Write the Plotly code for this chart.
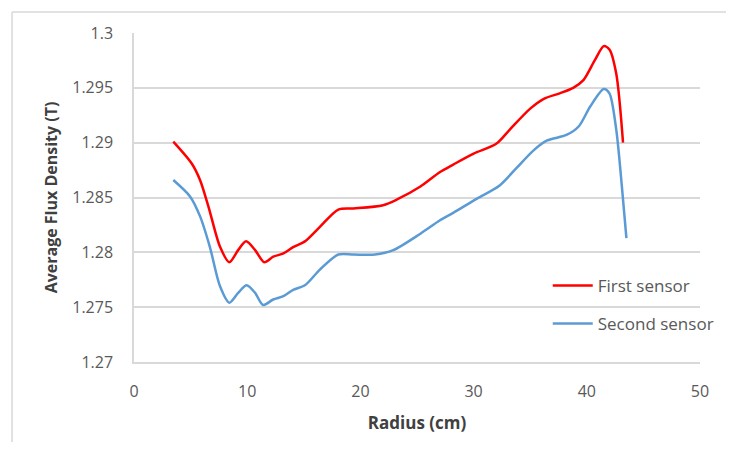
import plotly.graph_objects as go

# Data
radius_first = [3.47, 5.1, 5.83, 6.57, 7.6, 8.42, 9.2, 9.9, 10.7, 11.5, 12.3, 13.2, 14.1, 15.1,
                16.4, 18.05, 19.4, 22.0, 23.2, 25.3, 27.0, 28.2, 30.0, 32.0, 33.2, 35.0, 36.2,
                37.6, 38.8, 39.7, 40.7, 41.5, 42.0, 42.6, 43.2]
flux_first = [1.2901, 1.2881, 1.2866, 1.2842, 1.2805, 1.2791, 1.2802, 1.2810, 1.2802, 1.2791,
              1.2796, 1.2799, 1.2805, 1.2810, 1.2823, 1.2839, 1.2840, 1.2843, 1.2848, 1.2860,
              1.2873, 1.2880, 1.2890, 1.2899, 1.2912, 1.2931, 1.2940, 1.2945, 1.2950, 1.2957,
              1.2975, 1.2988, 1.2985, 1.2963, 1.2900]

radius_second = [3.47, 4.95, 5.83, 6.7, 7.6, 8.42, 9.2, 9.95, 10.7, 11.4, 12.3, 13.2, 14.1, 15.1,
                 16.4, 18.05, 19.4, 21.3, 22.9, 25.3, 27.0, 28.2, 30.3, 32.3, 33.8, 35.3, 36.5,
                 38.2, 39.3, 40.3, 41.5, 42.0, 42.6, 43.1, 43.5]
flux_second = [1.2866, 1.2851, 1.2833, 1.2805, 1.2769, 1.2754, 1.2763, 1.2770, 1.2763, 1.2752,
               1.2757, 1.2760, 1.2766, 1.2770, 1.2784, 1.2798, 1.2798, 1.2798, 1.2802, 1.2817,
               1.2829, 1.2836, 1.2849, 1.2861, 1.2877, 1.2893, 1.2902, 1.2907, 1.2915, 1.2933,
               1.2949, 1.2945, 1.2912, 1.2860, 1.2813]

y_tick_vals = [1.27, 1.275, 1.28, 1.285, 1.29, 1.295, 1.3]
y_tick_text = ["1.27", "1.275", "1.28", "1.285", "1.29", "1.295", "1.3"]
x_tick_vals = [0, 10, 20, 30, 40, 50]

FONT = "Open Sans"

fig = go.Figure()
fig.add_trace(go.Scatter(x=radius_first, y=flux_first, mode="lines", name="First sensor",
                         line=dict(color="#FF0000", width=2.5, shape="spline", smoothing=0.8),
                         legendgroup="a"))
fig.add_trace(go.Scatter(x=radius_second, y=flux_second, mode="lines", name="Second sensor",
                         line=dict(color="#5B9BD5", width=2.5, shape="spline", smoothing=0.8),
                         legendgroup="b"))

fig.update_layout(
    width=718, height=434,
    margin=dict(l=126, r=26, t=25, b=80, autoexpand=False),
    paper_bgcolor="white", plot_bgcolor="white",
    font=dict(family=FONT, color="#595959", size=15),
    legend=dict(x=0.731, y=0.286, xanchor="left", yanchor="top",
                font=dict(family=FONT, size=17, color="#595959"),
                tracegroupgap=13, itemwidth=40, bgcolor="rgba(0,0,0,0)"),
    xaxis=dict(range=[0, 50], tickvals=x_tick_vals, showgrid=False, zeroline=False,
               showline=True, linecolor="#D9D9D9", linewidth=1.5, ticks="",
               tickfont=dict(size=16, color="#595959"), ticklabelstandoff=14,
               title=dict(text="<b>Radius (cm)</b>", font=dict(size=17, color="#404040"),
                          standoff=16)),
    yaxis=dict(range=[1.27, 1.3], tickvals=y_tick_vals, ticktext=y_tick_text,
               showgrid=True, gridcolor="#D9D9D9", gridwidth=1.5, zeroline=False,
               showline=True, linecolor="#D9D9D9", linewidth=1.5, ticks="",
               tickfont=dict(size=16, color="#595959"), ticklabelstandoff=16,
               title=dict(text="<b>Average Flux Density (T)</b>",
                          font=dict(size=16, color="#404040"), standoff=11)),
    shapes=[
        dict(type="line", xref="paper", yref="paper", x0=-0.2155, x1=1.1, y0=1.0638, y1=1.0638,
             line=dict(color="#D9D9D9", width=1.5)),
        dict(type="line", xref="paper", yref="paper", x0=-0.2155, x1=-0.2155, y0=1.0638, y1=-0.3,
             line=dict(color="#D9D9D9", width=1.5)),
    ],
)

fig.write_html("out.html")
